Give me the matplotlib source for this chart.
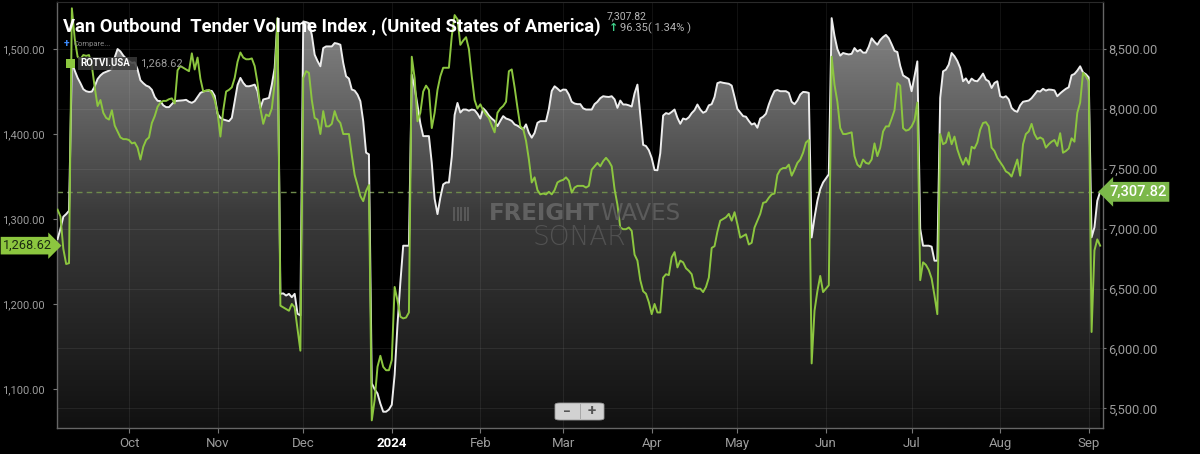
import numpy as np
import pandas as pd
import matplotlib
matplotlib.use("Agg")
import matplotlib.pyplot as plt
import matplotlib.dates as mdates
import matplotlib.transforms as mtransforms
from matplotlib.colors import LinearSegmentedColormap
from matplotlib.patches import Polygon, Rectangle, FancyBboxPatch
from matplotlib.ticker import FuncFormatter

plt.rcParams['font.family'] = ['Roboto', 'DejaVu Sans']

# ---------------- data (daily, starting 2023-09-06) ----------------
START = '2023-09-06'

# Van Outbound Tender Volume Index (VOTVI.USA) - right axis
votvi_2023 = [6914, 7000, 7100, 7122, 7150, 8384, 8320, 8260, 8215, 8165,
              8148, 8142, 8145, 8189, 8250, 8280, 8300, 8310, 8320, 8335,
              8430, 8500, 8480, 8445, 8420, 8400, 8384, 8389, 8330, 8240,
              8215, 8195, 8185, 8160, 8100, 8068, 8065, 8030, 8015, 8015,
              8040, 8065, 8068, 8070, 8072, 8076, 8060, 8051, 8065, 8100,
              8134, 8145, 8153, 8153, 8150, 8110, 7960, 7926, 7912, 7905,
              7898, 7926, 8065, 8200, 8259, 8217, 8190, 8189, 8195, 8203,
              8148, 8009, 8079, 8085, 8092, 8203, 8342, 8758, 6456, 6460,
              6442, 6456, 6428, 6456, 6290, 6276, 8730, 8725, 8716, 8619,
              8453, 8400, 8356, 8508, 8522, 8522, 8522, 8550, 8545, 8536,
              8384, 8273, 8253, 8162, 8153, 8120, 8065, 7898, 7635, 7621,
              5708, 5660, 5624, 5540, 5472, 5472, 5490]
votvi_2024 = [5530, 5780, 6200, 6550, 6858, 6858, 6858,
              8286, 8180, 8030, 7880, 7773, 7773, 7773, 7550, 7250, 7122,
              7260, 7370, 7386, 7386, 7600, 7950, 8050, 7970, 7995, 7995,
              7985, 7995, 7990, 7960, 7920, 8005, 7980, 7945, 7920, 7900,
              7857, 7900, 7940, 7920, 7912, 7900, 7871, 7860, 7845, 7829,
              7871, 7800, 7760, 7800, 7884, 7898, 7898, 7898, 8000, 8150,
              8189, 8170, 8148, 8162, 8160, 8120, 8060,
              8045, 8040, 8040, 8005, 7995, 7995, 7995, 8040, 8060, 8090,
              8106, 8102, 8100, 8106, 8080, 8009, 8070, 8037, 8037, 8030,
              8020, 8130, 8203, 7950, 7700, 7690, 7655, 7590, 7490, 7488,
              7630, 7945, 7965, 7958, 7975, 7995, 7926, 7876, 7920, 7912,
              7930, 7965, 7990, 8037, 7995, 7968, 7980, 8030, 8040, 8100,
              8215, 8224, 8218, 8214, 8210, 8195,
              8100, 8000, 7970, 7940, 7935, 7900, 7870, 7880, 7843, 7920,
              7935, 7960, 8037, 8100, 8150, 8158, 8148, 8148, 8148, 8134,
              8060, 8040, 8070, 8120, 8142, 8140, 8134,
              6927, 7094, 7233, 7330, 7386, 7420, 7454, 8758, 8610, 8500,
              8445, 8467, 8460, 8455, 8460, 8508, 8480, 8494, 8470, 8470,
              8520, 8590, 8560, 8536, 8575, 8600, 8618, 8591, 8540, 8485,
              8475, 8360, 8280, 8265, 8250, 8148, 8273, 8397, 7000, 6858,
              6858, 6858, 6850, 6733, 6733, 8092, 8314, 8328, 8370, 8467,
              8440, 8400, 8342, 8231, 8255, 8215, 8253, 8235, 8231, 8260,
              8295, 8245, 8231, 8175, 8217, 8231, 8106, 8095, 8106, 8080,
              8009, 7985, 7976, 8030, 8060, 8065, 8070, 8090, 8120, 8150,
              8145, 8168, 8153, 8162, 8160, 8155, 8106, 8130, 8150, 8168,
              8181, 8281, 8292, 8320, 8356, 8305, 8290, 8264, 6928, 7011,
              7233, 7307.82]

# Reefer Outbound Tender Volume Index (ROTVI.USA) - left axis
rotvi_2023 = [1311, 1303, 1265, 1247, 1248, 1548, 1512, 1491, 1488, 1493,
              1492, 1493, 1480, 1455, 1433, 1440, 1425, 1419, 1417, 1428,
              1410, 1403, 1396, 1394, 1394, 1393, 1389, 1390, 1384, 1370,
              1385, 1393, 1396, 1413, 1421, 1432, 1437, 1439, 1439, 1441,
              1442, 1436, 1475, 1480, 1478, 1476, 1474, 1495, 1476, 1490,
              1465, 1450, 1451, 1452, 1448, 1440, 1425, 1397, 1428, 1450,
              1452, 1455, 1466, 1485, 1496, 1490, 1488, 1488, 1489, 1480,
              1460, 1430, 1412, 1423, 1421, 1430, 1460, 1536, 1198, 1196,
              1194, 1192, 1200, 1196, 1170, 1145, 1466, 1474, 1472, 1440,
              1419, 1417, 1400, 1427, 1409, 1409, 1412, 1427, 1417, 1413,
              1400, 1400, 1400, 1375, 1352, 1340, 1327, 1321, 1333, 1340,
              1063, 1087, 1126, 1139, 1126, 1122, 1122]
rotvi_2024 = [1134, 1220, 1204, 1185, 1183, 1184, 1190,
              1491, 1466, 1415, 1425, 1450, 1457, 1452, 1407, 1425, 1452,
              1468, 1478, 1478, 1478, 1515, 1540, 1535, 1505, 1510, 1514,
              1500, 1468, 1440, 1430, 1435, 1428, 1423, 1419, 1410, 1402,
              1425, 1430, 1433, 1438, 1474, 1476, 1455, 1431, 1409, 1406,
              1392, 1370, 1343, 1349, 1334, 1329, 1330, 1329, 1332, 1329,
              1334, 1343, 1345, 1346, 1349, 1345, 1331,
              1337, 1339, 1339, 1339, 1337, 1339, 1358, 1362, 1366, 1362,
              1368, 1372, 1368, 1362, 1335, 1317, 1290, 1288, 1288, 1290,
              1286, 1258, 1251, 1228, 1215, 1212, 1202, 1188, 1200, 1190,
              1190, 1231, 1235, 1234, 1255, 1261, 1243, 1251, 1249, 1242,
              1239, 1235, 1220, 1218, 1218, 1214, 1220, 1231, 1266, 1268,
              1285, 1298, 1300, 1302, 1306, 1298,
              1308, 1294, 1278, 1280, 1282, 1270, 1272, 1290, 1298, 1306,
              1319, 1320, 1325, 1329, 1330, 1352, 1358, 1360, 1360, 1364,
              1351, 1358, 1366, 1370, 1378, 1390, 1393,
              1130, 1192, 1215, 1233, 1214, 1218, 1222, 1491, 1458, 1438,
              1407, 1400, 1400, 1401, 1402, 1374, 1364, 1361, 1370, 1366,
              1365, 1370, 1389, 1374, 1384, 1403, 1409, 1409, 1418, 1428,
              1460, 1457, 1407, 1404, 1405, 1409, 1416, 1437, 1228, 1249,
              1246, 1240, 1230, 1210, 1188, 1400, 1388, 1390, 1402, 1388,
              1397, 1382, 1372, 1364, 1372, 1364, 1385, 1383, 1390, 1405,
              1413, 1414, 1409, 1384, 1380, 1372, 1367, 1362, 1356, 1354,
              1350, 1360, 1370, 1351, 1388, 1400, 1403, 1412, 1400, 1394,
              1396, 1394, 1384, 1388, 1391, 1393, 1386, 1401, 1378, 1380,
              1383, 1395, 1391, 1425, 1437, 1472, 1468, 1462, 1167, 1263,
              1276, 1268.62]

left_ticks = [1100, 1200, 1300, 1400, 1500]
right_ticks = [5500, 6000, 6500, 7000, 7500, 8000, 8500]
month_ticks = ['2023-10-01', '2023-11-01', '2023-12-01', '2024-01-01',
               '2024-02-01', '2024-03-01', '2024-04-01', '2024-05-01',
               '2024-06-01', '2024-07-01', '2024-08-01', '2024-09-01']
month_labels = ['Oct', 'Nov', 'Dec', '2024', 'Feb', 'Mar', 'Apr', 'May',
                'Jun', 'Jul', 'Aug', 'Sep']

title_text = 'Van Outbound  Tender Volume Index , (United States of America)'
last_votvi = 7307.82
chg_abs = 96.35
chg_pct = 1.34
rotvi_name = 'ROTVI.USA'
last_rotvi = 1268.62

# ---------------- figure ----------------
W, H = 1200, 454
fig = plt.figure(figsize=(W / 100, H / 100), dpi=100, facecolor='black')
ax = fig.add_axes([57 / W, 26 / H, (1103 - 57) / W, 1 - 26 / H - 1.5 / H])
ax.set_facecolor('black')
ax2 = ax.twinx()

votvi = votvi_2023 + votvi_2024
rotvi = rotvi_2023 + rotvi_2024
d_v = pd.date_range(START, periods=len(votvi), freq='D')
d_r = pd.date_range(START, periods=len(rotvi), freq='D')

R_LO, R_HI = 5336, 8897
L_LO, L_HI = 1054, 1556
x0 = mdates.date2num(pd.Timestamp(START) - pd.Timedelta(hours=5))
x1 = mdates.date2num(pd.Timestamp(START) + pd.Timedelta(days=366))

# gradient area under the VOTVI line
cmap = LinearSegmentedColormap.from_list('g', ['#111111', '#3a3a3a', '#8c8c8c'])
grad = np.linspace(0, 1, 256).reshape(-1, 1)
im = ax.imshow(grad, extent=[x0, x1, R_LO, R_HI], origin='lower', aspect='auto',
               cmap=cmap, zorder=1, interpolation='bilinear')
xs = mdates.date2num(d_v)
verts = [(xs[0], R_LO)] + list(zip(xs, votvi)) + [(xs[-1], R_LO)]
poly = Polygon(verts, closed=True, facecolor='none', edgecolor='none',
               transform=ax.transData)
ax.add_patch(poly)
im.set_clip_path(poly)

ax.plot(d_v, votvi, color='#ededed', lw=1.4, zorder=3, solid_joinstyle='round')
ax.axhline(last_votvi, color='#6e8a4c', lw=1.0, ls=(0, (4, 3)), zorder=2.5)

ax.set_xlim(x0, x1)
ax.set_ylim(R_LO, R_HI)
ax.yaxis.tick_right()
ax.yaxis.set_label_position('right')
ax.set_yticks(right_ticks)
ax.yaxis.set_major_formatter(FuncFormatter(lambda v, p: f'{v:,.2f}'))
ax.tick_params(axis='y', which='both', left=False, labelleft=False,
               right=True, labelright=True,
               colors='#777777', labelcolor='#9c9c9c', labelsize=9.3,
               length=2.5, width=0.8, pad=1.5)

ax.set_xticks(mdates.date2num(pd.to_datetime(month_ticks)))
ax.set_xticklabels(month_labels)
ax.tick_params(axis='x', colors='#777777', labelcolor='#9c9c9c', labelsize=9.5,
               length=3.5, width=0.8, pad=3)
for lab in ax.get_xticklabels():
    if lab.get_text() == '2024':
        lab.set_color('white')
        lab.set_fontweight('bold')

ax.set_axisbelow('line')
ax.grid(True, axis='both', color='white', alpha=0.07, lw=0.8)

for side in ['left', 'right', 'bottom']:
    ax.spines[side].set_color('#666666')
    ax.spines[side].set_linewidth(1.0)
ax.spines['top'].set_color('#2a2a2a')

# ROTVI on left axis
ax2.plot(d_r, rotvi, color='#8cc63f', lw=1.4, zorder=4, solid_joinstyle='round')
ax2.set_ylim(L_LO, L_HI)
ax2.set_xlim(x0, x1)
ax2.yaxis.tick_left()
ax2.set_yticks(left_ticks)
ax2.yaxis.set_major_formatter(FuncFormatter(lambda v, p: f'{v:,.2f}'))
ax2.tick_params(axis='y', which='both', left=True, labelleft=True,
                right=False, labelright=False,
                colors='#777777', labelcolor='#9c9c9c', labelsize=8.0,
                length=3, width=0.8, pad=6)
for s in ax2.spines.values():
    s.set_visible(False)

# price tags
tr_r = mtransforms.blended_transform_factory(fig.transFigure, ax.transData)
ax.text(1109 / W, last_votvi, f'{last_votvi:,.2f}', transform=tr_r, ha='left',
        va='center', color='white', fontsize=10.5, fontweight='medium',
        bbox=dict(boxstyle='larrow,pad=0.2', fc='#7cb84a', ec='none'),
        zorder=10, clip_on=False)
tr_l = mtransforms.blended_transform_factory(fig.transFigure, ax2.transData)
ax2.text(52 / W, last_rotvi, f'{last_rotvi:,.2f}', transform=tr_l, ha='right',
         va='center', color='#1c2a12', fontsize=9.2,
         bbox=dict(boxstyle='rarrow,pad=0.18', fc='#8cc63f', ec='none'),
         zorder=10, clip_on=False)

# title (fit to reference width)
t = fig.text(63 / W, 1 - 27 / H, title_text, color='white', fontsize=14,
             fontweight='bold', ha='left', va='center')
fig.canvas.draw()
bb = t.get_window_extent()
t.set_fontsize(14 * 537 / bb.width)

fig.text(607 / W, 1 - 16 / H, f'{last_votvi:,.2f}', color='#b5b5b5',
         fontsize=7.5, ha='left', va='center')
fig.text(609 / W, 1 - 28 / H, '\u2191', color='#3ed08a', fontsize=8,
         fontweight='bold', ha='left', va='center')
fig.text(620 / W, 1 - 28 / H, f'{chg_abs:.2f}( {chg_pct:.2f}% )',
         color='#b5b5b5', fontsize=8, ha='left', va='center')

# legend block
fig.text(64 / W, 1 - 44 / H, '+', color='#3b8bff', fontsize=7.5,
         fontweight='bold', ha='left', va='center')
fig.text(74 / W, 1 - 44 / H, 'Compare...', color='#8a8a8a', fontsize=5.5,
         ha='left', va='center')
fig.patches.append(Rectangle((78 / W, 1 - 70 / H), 59 / W, 13 / H,
                             transform=fig.transFigure, fc='#3a3a3a',
                             ec='none', alpha=0.85, zorder=5))
fig.patches.append(Rectangle((66 / W, 1 - 68 / H), 9 / W, 9 / H,
                             transform=fig.transFigure, fc='#8cc63f',
                             ec='none', zorder=6))
fig.text(80 / W, 1 - 63.5 / H, rotvi_name, color='white', fontsize=7,
         fontweight='bold', ha='left', va='center', zorder=7)
fig.text(140 / W, 1 - 63.5 / H, f'{last_rotvi:,.2f}', color='#999999',
         fontsize=8, ha='left', va='center', zorder=7)

# watermark
for i in range(5):
    fig.patches.append(Rectangle(((453 + i * 3.6) / W, 1 - 221 / H), 2 / W,
                                 14 / H, transform=fig.transFigure,
                                 fc='#606060', ec='none', alpha=0.8, zorder=2))
fig.text(600 / W, 1 - 213 / H, 'FREIGHT', color='#666666', fontsize=16.5,
         fontweight='bold', ha='right', va='center', family='DejaVu Sans',
         alpha=0.9, zorder=2)
fig.text(600 / W, 1 - 213 / H, 'WAVES', color='#5f5f5f', fontsize=16.5,
         ha='left', va='center', family='DejaVu Sans', alpha=0.9, zorder=2)
fig.text(579 / W, 1 - 238 / H, 'SONAR', color='#555555', fontsize=19,
         fontweight='light', ha='center', va='center', family='DejaVu Sans',
         alpha=0.9, zorder=2)

# zoom control
fig.patches.append(FancyBboxPatch((555 / W, 1 - 420 / H), 49 / W, 17 / H,
                                  boxstyle='round,pad=0,rounding_size=0.004',
                                  transform=fig.transFigure, fc='#d2d2d2',
                                  ec='#9a9a9a', lw=0.6, zorder=8))
fig.patches.append(Rectangle((579.5 / W, 1 - 419 / H), 1 / W, 15 / H,
                             transform=fig.transFigure, fc='#a8a8a8',
                             ec='none', zorder=9))
fig.text(566.5 / W, 1 - 411.5 / H, '\u2212', color='#555555', fontsize=10,
         fontweight='bold', ha='center', va='center', zorder=10)
fig.text(592 / W, 1 - 411.5 / H, '+', color='#555555', fontsize=11,
         fontweight='bold', ha='center', va='center', zorder=10)

fig.savefig('out.png', dpi=100, facecolor='black')
